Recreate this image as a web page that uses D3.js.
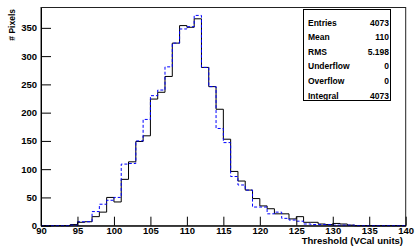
<!DOCTYPE html>
<html>
<head>
    <title>Threshold histogram</title>
    <script type="text/javascript" src="https://cdn.jsdelivr.net/npm/d3@7"></script>
    <meta charset="utf-8" />
    <style>
        body { margin: 0; background: #fff; }
        text { font-family: "Liberation Sans", Arial, sans-serif; font-weight: bold; fill: #000; }
    </style>
</head>
<body>
    <svg width="415" height="247"></svg>
    <script>

        // bin low edges (1 VCal wide)
        var binEdges = d3.range(90, 140);

        // black histogram (solid)
        var countsBlack = [0, 0, 0, 0, 2, 6, 7, 16, 24, 50,
                           42, 82, 113, 149, 159, 224, 236, 264, 323, 354,
                           351, 366, 280, 246, 206, 153, 96, 79, 63, 48,
                           35, 30, 21, 21, 12, 16, 6, 6, 3, 2,
                           4, 3, 1, 0, 0, 0, 0, 0, 0, 0];

        // blue histogram (dashed)
        var countsBlue = [0, 0, 0, 0, 1, 7, 7, 25, 38, 45,
                          50, 109, 110, 150, 188, 230, 240, 281, 323, 348,
                          352, 372, 280, 246, 172, 147, 87, 72, 63, 33,
                          33, 21, 24, 13, 10, 8, 3, 2, 2, 2,
                          1, 1, 1, 0, 0, 0, 0, 0, 0, 0];

        var xMajorTicks = d3.range(90, 141, 5);
        var yMajorTicks = d3.range(0, 351, 50);

        var statLabels = ["Entries", "Mean", "RMS", "Underflow", "Overflow", "Integral"];
        var statValues = ["4073", "110", "5.198", "0", "0", "4073"];

        var svg = d3.select("svg"),
            width = +svg.attr("width"),
            height = +svg.attr("height");

        var padL = 41, padR = 405.7, padT = 7.5, padB = 225.7;

        var x = d3.scaleLinear().domain([90, 140]).range([padL, padR]);
        var y = d3.scaleLinear().domain([0, 386]).range([padB, padT]);

        // frame
        svg.append("rect")
            .attr("x", padL)
            .attr("y", padT)
            .attr("width", padR - padL)
            .attr("height", padB - padT)
            .attr("fill", "none")
            .attr("stroke", "#222")
            .attr("stroke-width", 1);

        function stepPoints(counts) {
            var pts = [[x(90), y(0)]];
            counts.forEach(function (c, i) {
                pts.push([x(binEdges[i]), y(c)]);
                pts.push([x(binEdges[i] + 1), y(c)]);
            });
            pts.push([x(140), y(0)]);
            return pts;
        }

        var line = d3.line();

        svg.append("path")
            .attr("d", line(stepPoints(countsBlack)))
            .attr("fill", "none")
            .attr("stroke", "#000")
            .attr("stroke-width", 1);

        svg.append("path")
            .attr("d", line(stepPoints(countsBlue)))
            .attr("fill", "none")
            .attr("stroke", "#0000ff")
            .attr("stroke-width", 1)
            .attr("stroke-dasharray", "3,2");

        // x axis
        var gx = svg.append("g").attr("transform", "translate(0," + padB + ")");
        gx.call(d3.axisBottom(x).tickValues(d3.range(90, 141, 1)).tickSize(-4.5).tickSizeOuter(0).tickFormat(""));
        gx.call(d3.axisBottom(x).tickValues(xMajorTicks).tickSize(-9).tickSizeOuter(0).tickPadding(2));

        // y axis
        var gy = svg.append("g").attr("transform", "translate(" + padL + ",0)");
        gy.call(d3.axisLeft(y).tickValues(d3.range(0, 381, 10)).tickSize(-5).tickSizeOuter(0).tickFormat(""));
        gy.call(d3.axisLeft(y).tickValues(yMajorTicks).tickSize(-10).tickSizeOuter(0).tickPadding(4));

        svg.selectAll(".tick line").attr("stroke", "#000");
        svg.selectAll(".domain").attr("stroke", "#000");
        svg.selectAll(".tick text")
            .attr("font-family", "Liberation Sans, Arial, sans-serif")
            .attr("font-weight", "bold")
            .attr("font-size", 9.5)
            .attr("fill", "#000");

        // axis titles
        svg.append("text")
            .attr("x", 403)
            .attr("y", 244)
            .attr("text-anchor", "end")
            .attr("font-size", 9.5)
            .text("Threshold (VCal units)");

        svg.append("text")
            .attr("transform", "translate(15,9) rotate(-90)")
            .attr("text-anchor", "end")
            .attr("font-size", 8.5)
            .text("# Pixels");

        // stats box
        var box = svg.append("g");
        box.append("rect")
            .attr("x", 303.5)
            .attr("y", 9.5)
            .attr("width", 87)
            .attr("height", 91)
            .attr("fill", "#fff")
            .attr("stroke", "#000");

        box.selectAll("text.lab")
            .data(statLabels)
            .enter()
            .append("text")
            .attr("class", "lab")
            .attr("x", 308)
            .attr("y", function (d, i) { return 22.7 + i * 14.6; })
            .attr("dy", "0.35em")
            .attr("font-size", 8.5)
            .text(function (d) { return d; });

        box.selectAll("text.val")
            .data(statValues)
            .enter()
            .append("text")
            .attr("class", "val")
            .attr("x", 389)
            .attr("y", function (d, i) { return 22.7 + i * 14.6; })
            .attr("dy", "0.35em")
            .attr("text-anchor", "end")
            .attr("font-size", 8.5)
            .text(function (d) { return d; });

    </script>
</body>
</html>
